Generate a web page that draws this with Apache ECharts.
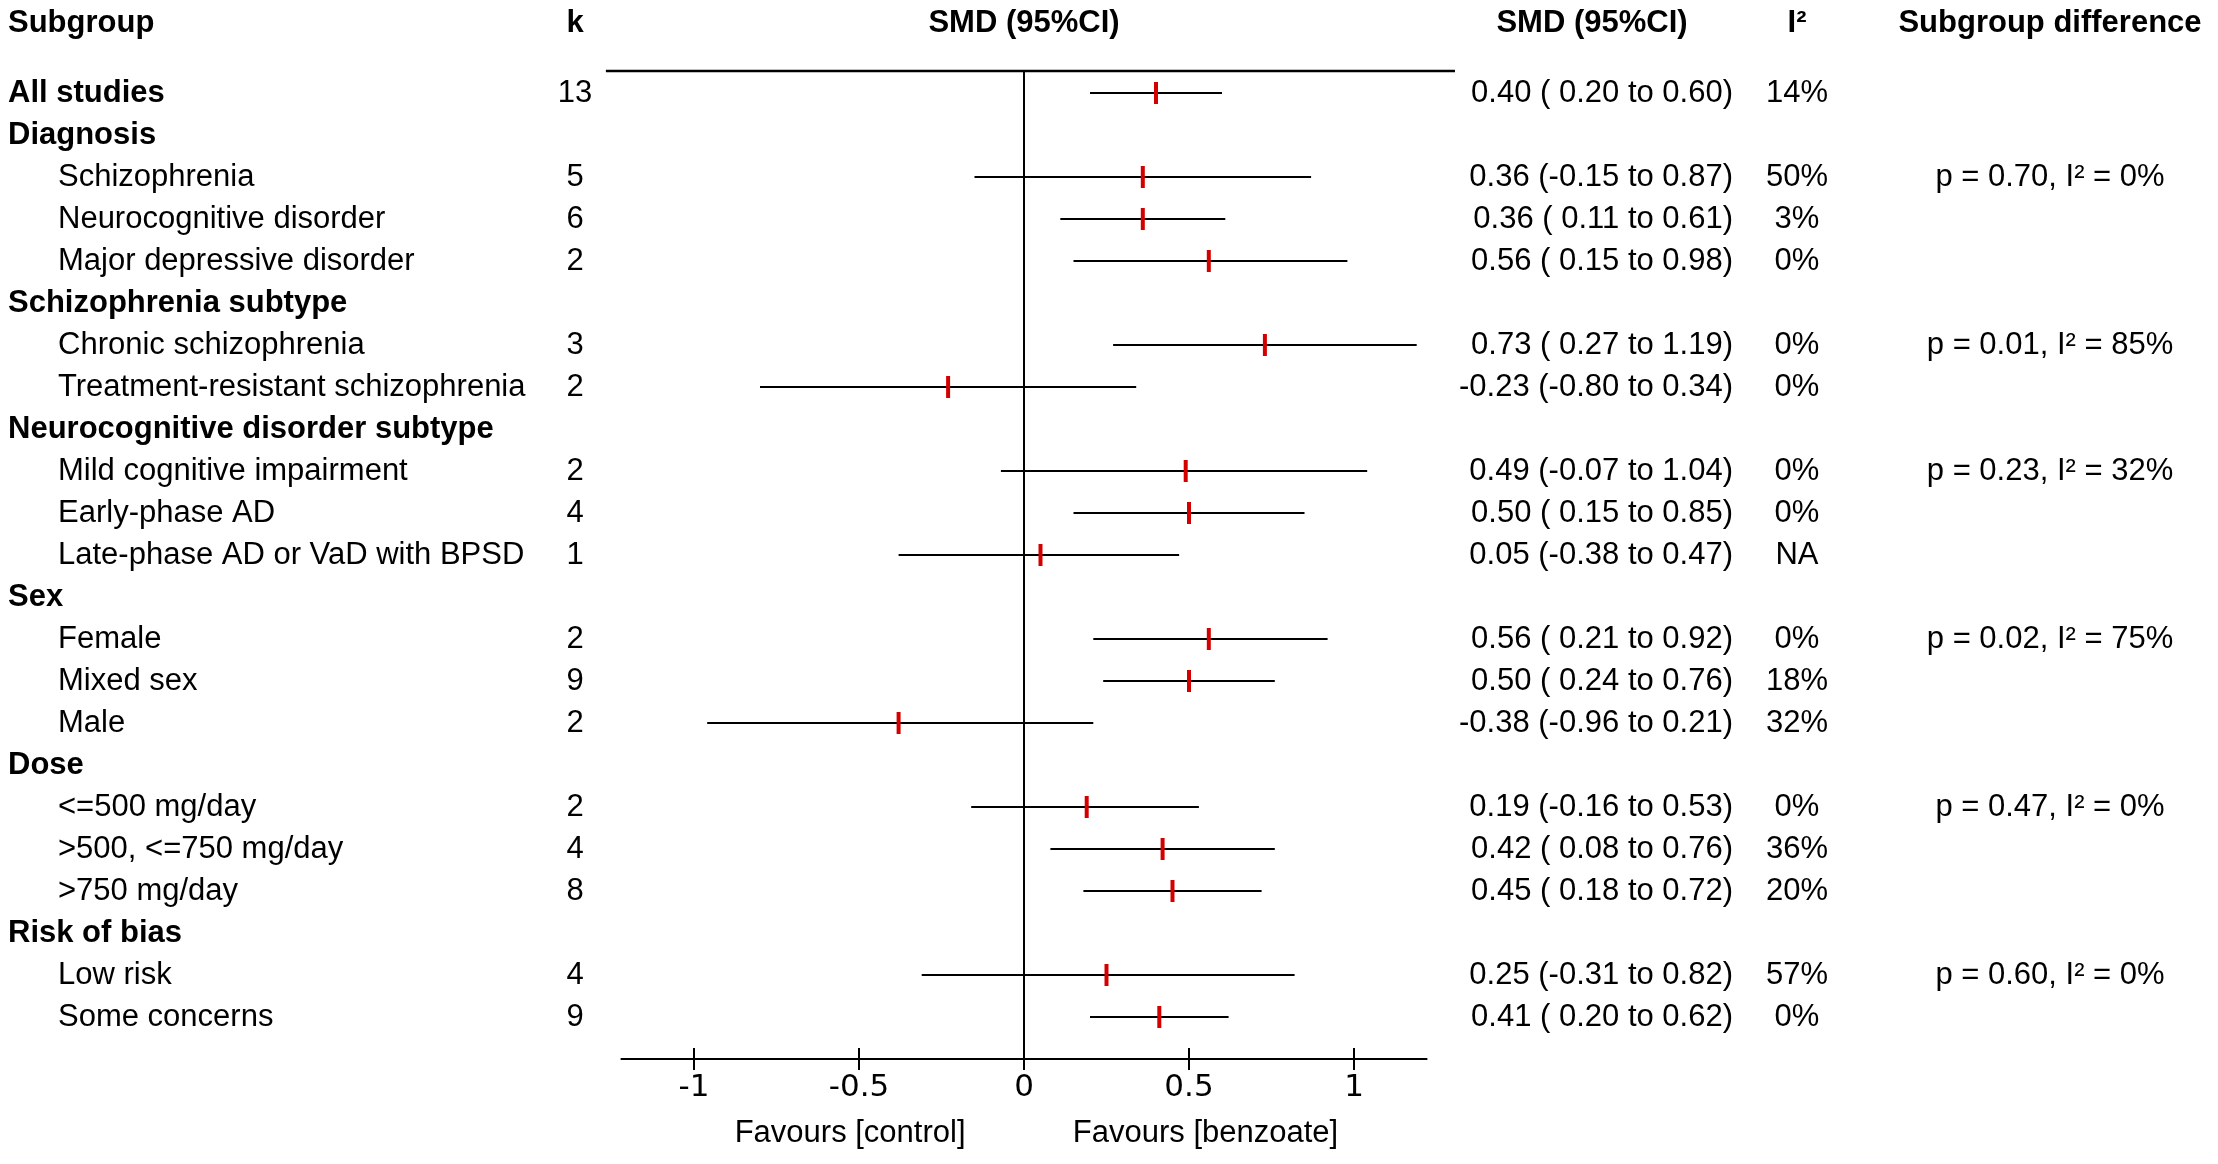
<!DOCTYPE html>
<html>
  <head>
    <meta charset="utf-8" />
    <title>Benzoate subgroup forest plot</title>
    <script src="https://cdn.jsdelivr.net/npm/echarts@6/dist/echarts.min.js"></script>
    <style>
      html, body { margin: 0; padding: 0; background: #fff; }
      #chart { width: 100vw; height: 100vh; }
    </style>
  </head>
  <body>
    <div id="chart"></div>
    <script type="text/javascript">
      // ---- data ----
      var subgroups = [
        'All studies', 'Diagnosis', 'Schizophrenia', 'Neurocognitive disorder',
        'Major depressive disorder', 'Schizophrenia subtype', 'Chronic schizophrenia',
        'Treatment-resistant schizophrenia', 'Neurocognitive disorder subtype',
        'Mild cognitive impairment', 'Early-phase AD', 'Late-phase AD or VaD with BPSD',
        'Sex', 'Female', 'Mixed sex', 'Male', 'Dose', '<=500 mg/day',
        '>500, <=750 mg/day', '>750 mg/day', 'Risk of bias', 'Low risk', 'Some concerns'
      ];
      // 0 = overall, 1 = group heading, 2 = subgroup
      var rowLevel = [0, 1, 2, 2, 2, 1, 2, 2, 1, 2, 2, 2, 1, 2, 2, 2, 1, 2, 2, 2, 1, 2, 2];
      var kStudies = [13, null, 5, 6, 2, null, 3, 2, null, 2, 4, 1, null, 2, 9, 2, null, 2, 4, 8, null, 4, 9];
      var smd   = [0.40, null, 0.36, 0.36, 0.56, null, 0.73, -0.23, null, 0.49, 0.50, 0.05, null, 0.56, 0.50, -0.38, null, 0.19, 0.42, 0.45, null, 0.25, 0.41];
      var lower = [0.20, null, -0.15, 0.11, 0.15, null, 0.27, -0.80, null, -0.07, 0.15, -0.38, null, 0.21, 0.24, -0.96, null, -0.16, 0.08, 0.18, null, -0.31, 0.20];
      var upper = [0.60, null, 0.87, 0.61, 0.98, null, 1.19, 0.34, null, 1.04, 0.85, 0.47, null, 0.92, 0.76, 0.21, null, 0.53, 0.76, 0.72, null, 0.82, 0.62];
      var i2    = ['14%', null, '50%', '3%', '0%', null, '0%', '0%', null, '0%', '0%', 'NA', null, '0%', '18%', '32%', null, '0%', '36%', '20%', null, '57%', '0%'];
      var diffP  = [null, null, '0.70', null, null, null, '0.01', null, null, '0.23', null, null, null, '0.02', null, null, null, '0.47', null, null, null, '0.60', null];
      var diffI2 = [null, null, '0%', null, null, null, '85%', null, null, '32%', null, null, null, '75%', null, null, null, '0%', null, null, null, '0%', null];
      var xTicks = [-1, -0.5, 0, 0.5, 1];
      var favourLabels = ['Favours [control]', 'Favours [benzoate]'];
      var favourAt = [-0.527, 0.55];
      var headers = ['Subgroup', 'k', 'SMD (95%CI)', 'SMD (95%CI)', 'I\u00b2', 'Subgroup difference'];

      // ---- layout ----
      var W = 2218, H = 1164;
      var ROW0_Y = 93, ROW_H = 42;           // pixel centre of row 1, row spacing
      var TOP_Y = 71, AXIS_Y = 1059;          // top rule and x axis
      var ZERO_X = 1024, UNIT = 330;          // forest x scale
      var XMIN = -1.22, XMAX = 1.22;
      var TOP_RULE = [-1.267, 1.306];
      var HEAD_ROW = 1 + (23 - ROW0_Y) / ROW_H;
      var FAV_ROW = 1 + (1133 - ROW0_Y) / ROW_H;
      var col = { sub: 8, subIndent: 58, k: 575, smdRight: 1733, smdHead: 1592, i2: 1797, diff: 2050 };
      var FONT = 'Liberation Sans';
      var FS = 31;

      function rowOfPixel(y) { return 1 + (y - ROW0_Y) / ROW_H; }

      function fmt(v) { return (v < 0 ? '' : ' ') + v.toFixed(2); }

      // text cells (table grid x is in pixels, forest grid x is SMD)
      var tableCells = [];
      var forestCells = [];
      tableCells.push({ x: col.sub, y: HEAD_ROW, text: headers[0], bold: true, align: 'left' });
      tableCells.push({ x: col.k, y: HEAD_ROW, text: headers[1], bold: true, align: 'center' });
      forestCells.push({ x: 0, y: HEAD_ROW, text: headers[2], bold: true, align: 'center' });
      tableCells.push({ x: col.smdHead, y: HEAD_ROW, text: headers[3], bold: true, align: 'center' });
      tableCells.push({ x: col.i2, y: HEAD_ROW, text: headers[4], bold: true, align: 'center' });
      tableCells.push({ x: col.diff, y: HEAD_ROW, text: headers[5], bold: true, align: 'center' });

      var ciData = [];
      subgroups.forEach(function (name, i) {
        var row = i + 1;
        tableCells.push({
          x: rowLevel[i] === 2 ? col.subIndent : col.sub, y: row, text: name,
          bold: rowLevel[i] < 2, align: 'left'
        });
        if (kStudies[i] != null) {
          tableCells.push({ x: col.k, y: row, text: String(kStudies[i]), align: 'center' });
        }
        if (smd[i] != null) {
          tableCells.push({
            x: col.smdRight, y: row, align: 'right',
            text: smd[i].toFixed(2) + ' (' + fmt(lower[i]) + ' to ' + upper[i].toFixed(2) + ')'
          });
          ciData.push([row, lower[i], smd[i], upper[i]]);
        }
        if (i2[i] != null) {
          tableCells.push({ x: col.i2, y: row, text: i2[i], align: 'center' });
        }
        if (diffP[i] != null) {
          tableCells.push({ x: col.diff, y: row, text: 'p = ' + diffP[i] + ', I\u00b2 = ' + diffI2[i], align: 'center' });
        }
      });
      favourLabels.forEach(function (t, i) {
        forestCells.push({ x: favourAt[i], y: FAV_ROW, text: t, align: 'center' });
      });

      function textSeries(name, gridIdx, cells) {
        return {
          name: name,
          type: 'custom',
          xAxisIndex: gridIdx === 0 ? 0 : 2,
          yAxisIndex: gridIdx,
          silent: true,
          clip: false,
          data: cells.map(function (c) { return [c.x, c.y]; }),
          renderItem: function (params, api) {
            var c = cells[params.dataIndex];
            var p = api.coord([c.x, c.y]);
            return {
              type: 'text',
              x: p[0],
              y: p[1],
              style: {
                text: c.text,
                fill: '#000',
                fontFamily: FONT,
                fontSize: FS,
                fontWeight: c.bold ? 'bold' : 'normal',
                align: c.align,
                verticalAlign: 'middle'
              }
            };
          }
        };
      }

      var forestLeft = ZERO_X + XMIN * UNIT;
      var forestRight = W - (ZERO_X + XMAX * UNIT);

      var chart = echarts.init(document.getElementById('chart'), null, { renderer: 'canvas' });
      chart.setOption({
        backgroundColor: '#fff',
        animation: false,
        grid: [
          { left: forestLeft, right: forestRight, top: TOP_Y, bottom: H - AXIS_Y },
          { left: 0, right: 0, top: 0, bottom: 0 }
        ],
        xAxis: [
          {
            type: 'value', gridIndex: 0, min: XMIN, max: XMAX,
            axisLine: { show: true, onZero: false, lineStyle: { color: '#000', width: 2 } },
            axisTick: { show: true, length: 11, customValues: xTicks, lineStyle: { color: '#000', width: 2 } },
            axisLabel: {
              show: true, customValues: xTicks, margin: 13, color: '#000',
              fontFamily: 'DejaVu Sans', fontSize: 31
            },
            splitLine: { show: false }
          },
          {
            type: 'value', gridIndex: 0, min: XMIN, max: XMAX, position: 'bottom',
            axisLine: { show: false },
            axisTick: { show: true, inside: true, length: 11, customValues: xTicks, lineStyle: { color: '#000', width: 2 } },
            axisLabel: { show: false },
            splitLine: { show: false }
          },
          { type: 'value', gridIndex: 1, min: 0, max: W, show: false, splitLine: { show: false } }
        ],
        yAxis: [
          {
            type: 'value', gridIndex: 0, inverse: true, show: false,
            min: rowOfPixel(TOP_Y), max: rowOfPixel(AXIS_Y), splitLine: { show: false }
          },
          {
            type: 'value', gridIndex: 1, inverse: true, show: false,
            min: rowOfPixel(0), max: rowOfPixel(H), splitLine: { show: false }
          }
        ],
        series: [
          {
            name: 'top rule',
            type: 'custom',
            xAxisIndex: 0, yAxisIndex: 0,
            clip: false, silent: true,
            data: [[TOP_RULE[0], TOP_RULE[1], rowOfPixel(TOP_Y)]],
            renderItem: function (params, api) {
              var a = api.coord([api.value(0), api.value(2)]);
              var b = api.coord([api.value(1), api.value(2)]);
              return {
                type: 'line',
                shape: { x1: a[0], y1: a[1], x2: b[0], y2: b[1] },
                style: { stroke: '#000', lineWidth: 2.5 }
              };
            }
          },
          {
            name: 'SMD',
            type: 'custom',
            xAxisIndex: 0, yAxisIndex: 0,
            silent: true,
            encode: { x: [1, 2, 3], y: 0 },
            data: ciData,
            renderItem: function (params, api) {
              var row = api.value(0);
              var a = api.coord([api.value(1), row]);
              var b = api.coord([api.value(3), row]);
              var e = api.coord([api.value(2), row]);
              return {
                type: 'group',
                children: [
                  {
                    type: 'line',
                    shape: { x1: a[0], y1: a[1], x2: b[0], y2: b[1] },
                    style: { stroke: '#000', lineWidth: 2 }
                  },
                  {
                    type: 'rect',
                    shape: { x: e[0] - 2, y: e[1] - 11, width: 4, height: 22 },
                    style: { fill: '#d40000' }
                  }
                ]
              };
            },
            markLine: {
              silent: true,
              symbol: 'none',
              label: { show: false },
              lineStyle: { color: '#000', width: 2, type: 'solid' },
              data: [{ xAxis: 0 }]
            }
          },
          textSeries('forest text', 0, forestCells),
          textSeries('table text', 1, tableCells)
        ]
      });

      window.onresize = function () { chart.resize(); };
    </script>
  </body>
</html>
